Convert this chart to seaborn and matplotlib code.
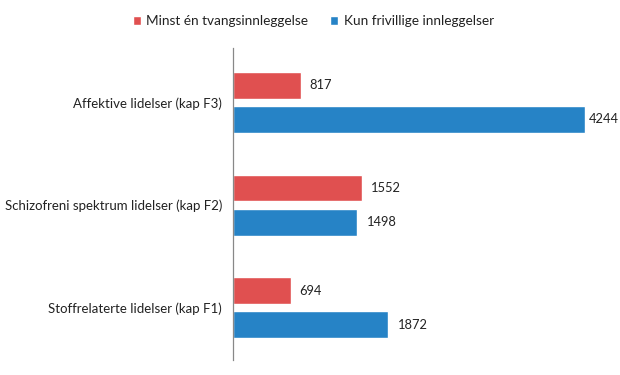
import pandas as pd
import matplotlib.pyplot as plt
import seaborn as sns

sns.set_theme(style="white")
plt.rcParams['font.family'] = ['Lato', 'DejaVu Sans']

## Data ##
categories = ["Affektive lidelser (kap F3)",
              "Schizofreni spektrum lidelser (kap F2)",
              "Stoffrelaterte lidelser (kap F1)"]
series_names = ["Minst én tvangsinnleggelse", "Kun frivillige innleggelser"]
tvang = [817, 1552, 694]
frivillig = [4244, 1498, 1872]

df = pd.DataFrame({
    "Kategori": categories * 2,
    "Gruppe": [series_names[0]] * 3 + [series_names[1]] * 3,
    "Antall": tvang + frivillig,
})

colors = ["#e05050", "#2683c6"]

fig = plt.figure(figsize=(6.2, 3.75), dpi=100)
ax = fig.add_axes([233 / 620, 1 - 360 / 375, (610 - 233) / 620, (360 - 48) / 375])

sns.barplot(data=df, y="Kategori", x="Antall", hue="Gruppe", orient="h",
            palette=colors, saturation=1, width=0.664, gap=0.21, ax=ax, legend=True)

# the longest bar gets its label tucked closer, as in the original
top = max(tvang + frivillig)
for cont in ax.containers:
    anns = ax.bar_label(cont, padding=6.5, fontsize=9.3, color="#222222")
    for a, v in zip(anns, cont.datavalues):
        if v == top:
            a.xyann = (2.5, 0)

ax.set_xlim(0, 4540)
ax.set_ylim(2.51, -0.53)
ax.set_xlabel("")
ax.set_ylabel("")
ax.set_xticks([])
ax.tick_params(axis="y", length=0, pad=8, labelsize=9.5, labelcolor="#222222")
for s in ["top", "right", "bottom"]:
    ax.spines[s].set_visible(False)
ax.spines["left"].set_color("#888888")
ax.spines["left"].set_linewidth(0.9)

handles, labels = ax.get_legend_handles_labels()
ax.legend_.remove()
fig.legend(handles, labels, loc="center", bbox_to_anchor=(0.505, 0.944), ncol=2,
           frameon=False, fontsize=9.8, handlelength=0.6, handleheight=0.6,
           handletextpad=0.4, columnspacing=1.6, labelcolor="#222222")

fig.savefig("out.png", dpi=100)
